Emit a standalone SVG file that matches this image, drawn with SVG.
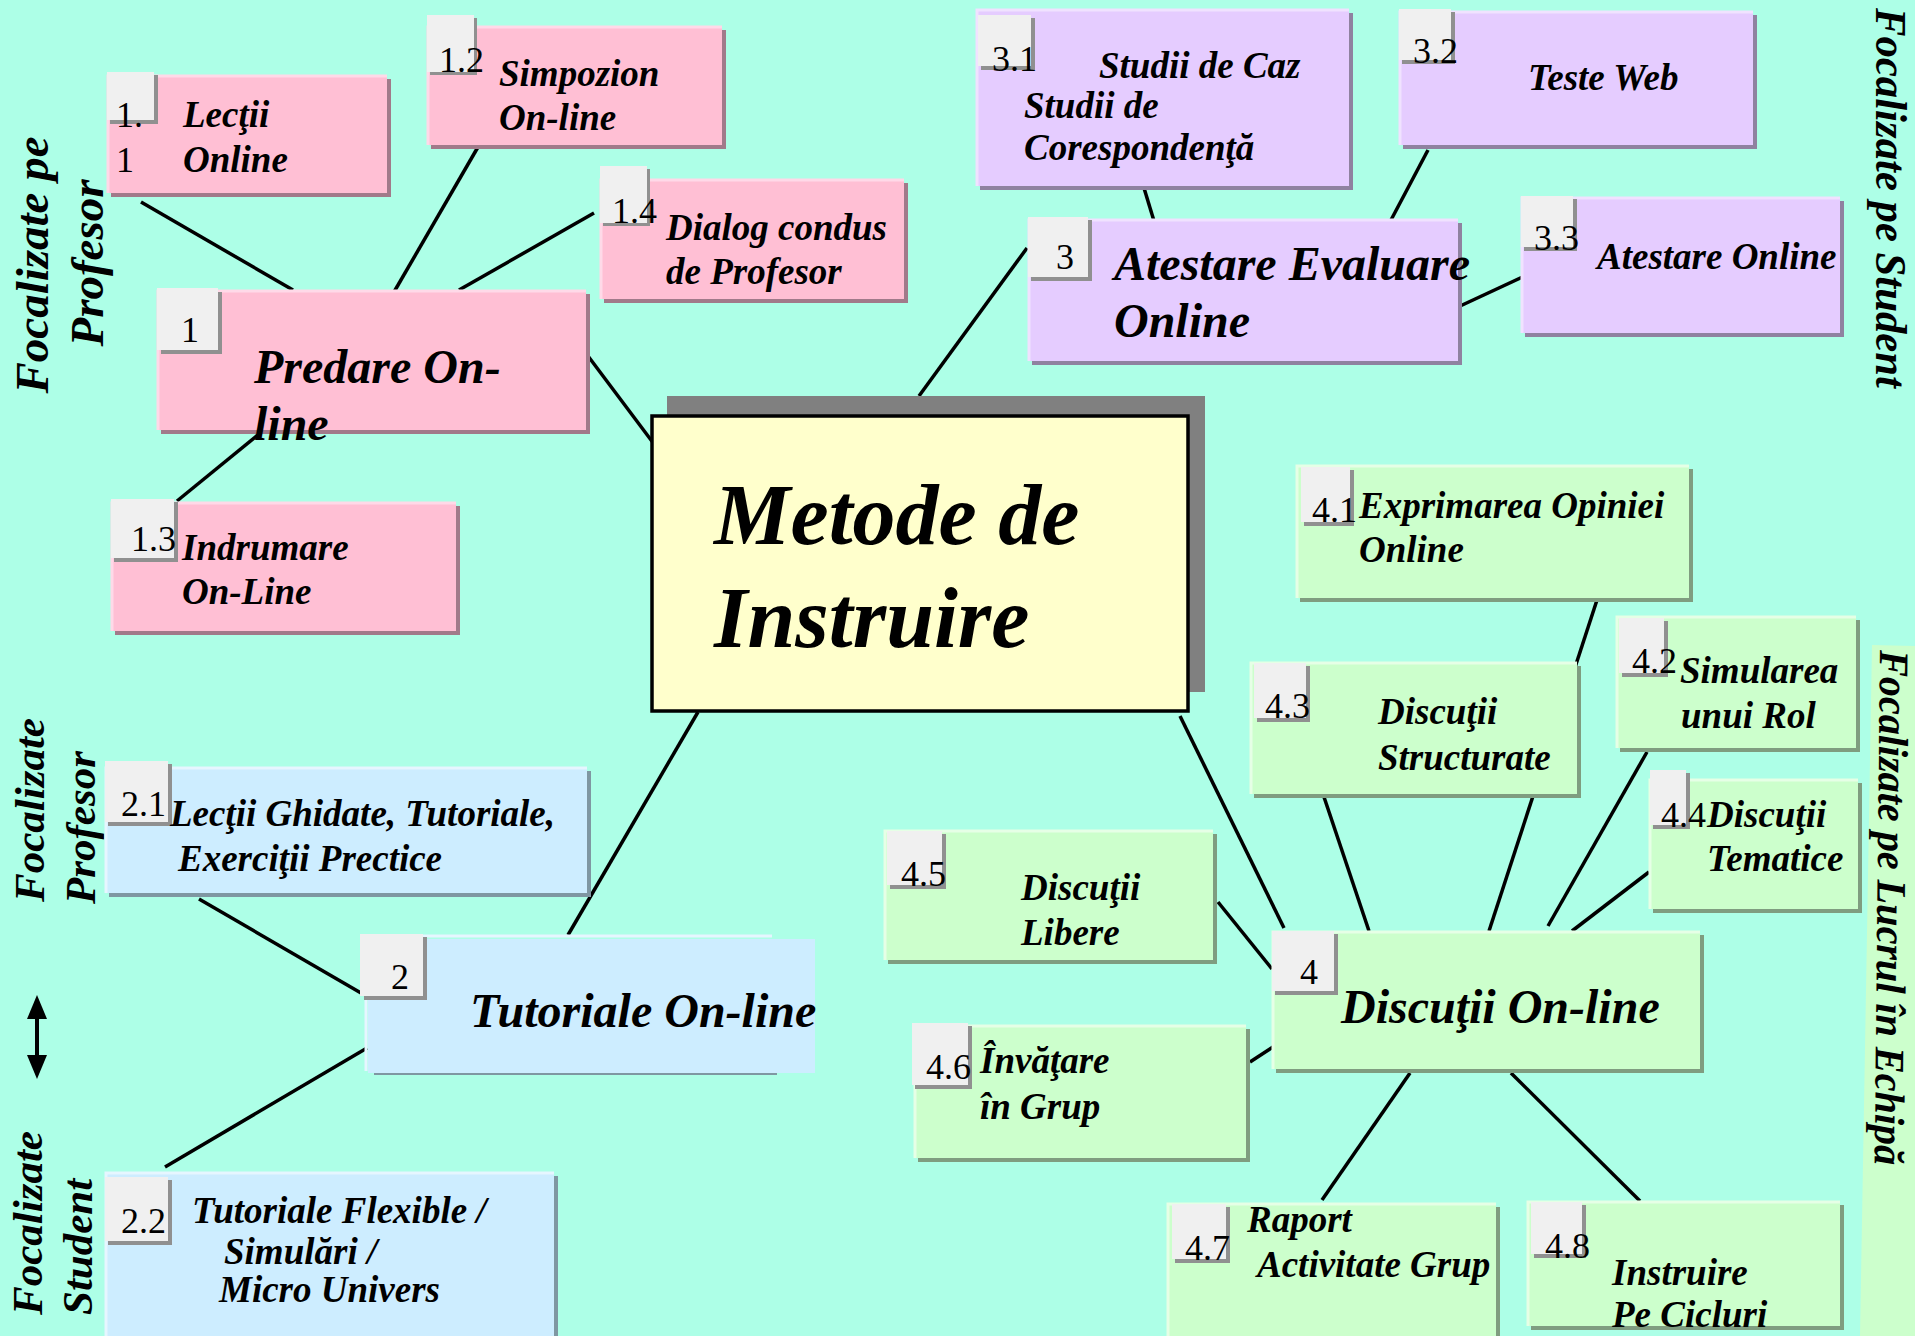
<svg xmlns="http://www.w3.org/2000/svg" width="1915" height="1336" viewBox="0 0 1915 1336">
<style>
.bg{fill:#adffe7}
.ln{stroke:#000;stroke-width:3.5;fill:none}
.pk{fill:#ffbfd4}.pk-s{fill:#a17a8a}.pk-h{stroke:#ffd9e8;stroke-width:3;fill:none}
.pu{fill:#e5ccff}.pu-s{fill:#8f82a0}.pu-h{stroke:#f0e2ff;stroke-width:3;fill:none}
.gr{fill:#ccffcc}.gr-s{fill:#7f9d80}.gr-h{stroke:#e6ffe6;stroke-width:3;fill:none}
.bl{fill:#cdedff}.bl-s{fill:#7f97a2}.bl-h{stroke:#e6f6ff;stroke-width:3;fill:none}
.bd{fill:#f0f0f0}.bd-s{fill:#909090}
.num{font-family:"Liberation Serif",serif;font-size:36px;fill:#000}
.t2{font-family:"Liberation Serif",serif;font-size:37px;font-weight:bold;font-style:italic;fill:#000}
.t1{font-family:"Liberation Serif",serif;font-size:48px;font-weight:bold;font-style:italic;fill:#000}
.t0{font-family:"Liberation Serif",serif;font-size:86px;font-weight:bold;font-style:italic;fill:#000}
.side{font-family:"Liberation Serif",serif;font-weight:bold;font-style:italic;fill:#000}
</style>
<rect class="bg" x="0" y="0" width="1915" height="1336"/>

<g id="side-labels">
  <text class="side" font-size="47" text-anchor="middle" transform="translate(48,265) rotate(-90)">Focalizate pe</text>
  <text class="side" font-size="47" text-anchor="middle" transform="translate(103,263) rotate(-90)">Profesor</text>
  <text class="side" font-size="43" transform="translate(44,902) rotate(-90)">Focalizate</text>
  <text class="side" font-size="43" transform="translate(95,904) rotate(-90)">Profesor</text>
  <text class="side" font-size="43" transform="translate(42,1315) rotate(-90)">Focalizate</text>
  <text class="side" font-size="43" transform="translate(92,1315) rotate(-90)">Student</text>
  <text class="side" font-size="44" textLength="380" lengthAdjust="spacingAndGlyphs" transform="translate(1876,8) rotate(90)">Focalizate pe Student</text>
  <polygon points="1872,645 1915,646 1915,1336 1860,1336" fill="#ccffcc"/>
  <text class="side" font-size="42" textLength="515" lengthAdjust="spacingAndGlyphs" transform="translate(1880,650) rotate(90.6)">Focalizate pe Lucrul în Echipă</text>
  <g id="double-arrow">
    <line x1="37" y1="1012" x2="37" y2="1062" stroke="#000" stroke-width="4"/>
    <polygon points="37,995 27,1019 47,1019" fill="#000"/>
    <polygon points="37,1079 27,1055 47,1055" fill="#000"/>
  </g>
</g>

<g id="connectors">
  <line class="ln" x1="141" y1="202" x2="293" y2="290"/>
  <line class="ln" x1="478" y1="147" x2="394" y2="292"/>
  <line class="ln" x1="594" y1="213" x2="459" y2="290"/>
  <line class="ln" x1="259" y1="434" x2="177" y2="501"/>
  <line class="ln" x1="588" y1="356" x2="654" y2="444"/>
  <line class="ln" x1="919" y1="396" x2="1027" y2="248"/>
  <line class="ln" x1="1144" y1="188" x2="1154" y2="221"/>
  <line class="ln" x1="1428" y1="150" x2="1391" y2="220"/>
  <line class="ln" x1="1458" y1="307" x2="1529" y2="274"/>
  <line class="ln" x1="698" y1="712" x2="568" y2="935"/>
  <line class="ln" x1="199" y1="899" x2="361" y2="993"/>
  <line class="ln" x1="367" y1="1048" x2="165" y2="1167"/>
  <line class="ln" x1="1180" y1="716" x2="1284" y2="928"/>
  <line class="ln" x1="1324" y1="797" x2="1369" y2="931"/>
  <line class="ln" x1="1597" y1="600" x2="1489" y2="931"/>
  <line class="ln" x1="1647" y1="752" x2="1548" y2="926"/>
  <line class="ln" x1="1649" y1="872" x2="1572" y2="931"/>
  <line class="ln" x1="1218" y1="902" x2="1272" y2="969"/>
  <line class="ln" x1="1250" y1="1062" x2="1276" y2="1045"/>
  <line class="ln" x1="1410" y1="1073" x2="1322" y2="1200"/>
  <line class="ln" x1="1511" y1="1073" x2="1640" y2="1201"/>
</g>

<g id="center">
  <rect x="667" y="396" width="538" height="296" fill="#808080"/>
  <rect x="652" y="416" width="536" height="295" fill="#ffffcc" stroke="#000" stroke-width="3.5"/>
  <text class="t0" x="714" y="544">Metode de</text>
  <text class="t0" x="714" y="647">Instruire</text>
</g>

<!-- Branch 1 -->
<g id="n1">
  <rect class="pk-s" x="161" y="294" width="429" height="140"/>
  <rect class="pk" x="157" y="290" width="429" height="140"/>
  <polyline class="pk-h" points="158,430 158,291 586,291"/>
  <rect class="bd-s" x="161" y="292" width="61" height="62"/>
  <rect class="bd" x="157" y="288" width="61" height="62"/>
  <text class="num" x="181" y="342">1</text>
  <text class="t1" x="254" y="383">Predare On-</text>
  <text class="t1" x="254" y="440">line</text>
</g>
<g id="n1-1">
  <rect class="pk-s" x="111" y="79" width="280" height="118"/>
  <rect class="pk" x="107" y="75" width="280" height="118"/>
  <polyline class="pk-h" points="108,193 108,76 387,76"/>
  <rect class="bd-s" x="110" y="75" width="48" height="49"/>
  <rect class="bd" x="107" y="72" width="47" height="48"/>
  <text class="num" x="116" y="127">1.</text>
  <text class="num" x="116" y="172">1</text>
  <text class="t2" x="183" y="127">Lecţii</text>
  <text class="t2" x="183" y="172">Online</text>
</g>
<g id="n1-2">
  <rect class="pk-s" x="431" y="30" width="295" height="119"/>
  <rect class="pk" x="427" y="26" width="295" height="119"/>
  <polyline class="pk-h" points="428,145 428,27 722,27"/>
  <rect class="bd-s" x="430" y="18" width="47" height="57"/>
  <rect class="bd" x="427" y="15" width="47" height="57"/>
  <text class="num" x="439" y="72">1.2</text>
  <text class="t2" x="499" y="86">Simpozion</text>
  <text class="t2" x="499" y="130">On-line</text>
</g>
<g id="n1-4">
  <rect class="pk-s" x="604" y="183" width="304" height="120"/>
  <rect class="pk" x="600" y="179" width="304" height="120"/>
  <polyline class="pk-h" points="601,299 601,180 904,180"/>
  <rect class="bd-s" x="603" y="169" width="47" height="57"/>
  <rect class="bd" x="600" y="166" width="47" height="57"/>
  <text class="num" x="612" y="223">1.4</text>
  <text class="t2" x="666" y="240">Dialog condus</text>
  <text class="t2" x="666" y="284">de Profesor</text>
</g>
<g id="n1-3">
  <rect class="pk-s" x="115" y="506" width="345" height="129"/>
  <rect class="pk" x="111" y="502" width="345" height="129"/>
  <polyline class="pk-h" points="112,631 112,503 456,503"/>
  <rect class="bd-s" x="114" y="502" width="64" height="60"/>
  <rect class="bd" x="111" y="499" width="63" height="59"/>
  <text class="num" x="131" y="551">1.3</text>
  <text class="t2" x="182" y="560">Indrumare</text>
  <text class="t2" x="182" y="604">On-Line</text>
</g>

<!-- Branch 2 -->
<g id="n2">
  <rect class="bl-s" x="374" y="941" width="403" height="134"/>
  <rect class="bl" x="368" y="939" width="447" height="134"/>
  <polyline class="bl-h" points="366,1071 366,936 772,936"/>
  <rect class="bd-s" x="364" y="937" width="63" height="63"/>
  <rect class="bd" x="360" y="934" width="63" height="62"/>
  <text class="num" x="391" y="989">2</text>
  <text class="t1" x="470" y="1027">Tutoriale On-line</text>
</g>
<g id="n2-1">
  <rect class="bl-s" x="109" y="771" width="482" height="126"/>
  <rect class="bl" x="105" y="767" width="482" height="126"/>
  <polyline class="bl-h" points="106,893 106,768 587,768"/>
  <rect class="bd-s" x="108" y="764" width="64" height="62"/>
  <rect class="bd" x="105" y="761" width="63" height="61"/>
  <text class="num" x="121" y="816">2.1</text>
  <text class="t2" x="170" y="826">Lecţii Ghidate, Tutoriale,</text>
  <text class="t2" x="178" y="871">Exerciţii Prectice</text>
</g>
<g id="n2-2">
  <rect class="bl-s" x="109" y="1176" width="449" height="170"/>
  <rect class="bl" x="105" y="1172" width="449" height="170"/>
  <polyline class="bl-h" points="106,1336 106,1173 554,1173"/>
  <rect class="bd-s" x="108" y="1180" width="64" height="65"/>
  <rect class="bd" x="105" y="1177" width="63" height="64"/>
  <text class="num" x="121" y="1233">2.2</text>
  <text class="t2" x="192" y="1223">Tutoriale Flexible /</text>
  <text class="t2" x="224" y="1264">Simulări /</text>
  <text class="t2" x="219" y="1302">Micro Univers</text>
</g>

<!-- Branch 3 -->
<g id="n3">
  <rect class="pu-s" x="1032" y="223" width="430" height="142"/>
  <rect class="pu" x="1028" y="219" width="430" height="142"/>
  <polyline class="pu-h" points="1029,361 1029,220 1458,220"/>
  <rect class="bd-s" x="1031" y="220" width="61" height="61"/>
  <rect class="bd" x="1028" y="217" width="60" height="60"/>
  <text class="num" x="1056" y="269">3</text>
  <text class="t1" x="1114" y="280">Atestare Evaluare</text>
  <text class="t1" x="1114" y="337">Online</text>
</g>
<g id="n3-1">
  <rect class="pu-s" x="980" y="13" width="373" height="177"/>
  <rect class="pu" x="976" y="9" width="373" height="177"/>
  <polyline class="pu-h" points="977,186 977,10 1349,10"/>
  <rect class="bd-s" x="981" y="18" width="54" height="52"/>
  <rect class="bd" x="978" y="15" width="53" height="51"/>
  <text class="num" x="992" y="71">3.1</text>
  <text class="t2" x="1099" y="78">Studii de Caz</text>
  <text class="t2" x="1024" y="118">Studii de</text>
  <text class="t2" x="1024" y="160">Corespondenţă</text>
</g>
<g id="n3-2">
  <rect class="pu-s" x="1403" y="15" width="354" height="134"/>
  <rect class="pu" x="1399" y="11" width="354" height="134"/>
  <polyline class="pu-h" points="1400,145 1400,12 1753,12"/>
  <rect class="bd-s" x="1402" y="12" width="53" height="52"/>
  <rect class="bd" x="1399" y="9" width="52" height="51"/>
  <text class="num" x="1413" y="63">3.2</text>
  <text class="t2" x="1528" y="90">Teste Web</text>
</g>
<g id="n3-3">
  <rect class="pu-s" x="1525" y="201" width="319" height="136"/>
  <rect class="pu" x="1521" y="197" width="319" height="136"/>
  <polyline class="pu-h" points="1522,333 1522,198 1840,198"/>
  <rect class="bd-s" x="1524" y="199" width="53" height="52"/>
  <rect class="bd" x="1521" y="196" width="52" height="51"/>
  <text class="num" x="1534" y="250">3.3</text>
  <text class="t2" x="1597" y="269">Atestare Online</text>
</g>

<!-- Branch 4 -->
<g id="n4-1">
  <rect class="gr-s" x="1300" y="469" width="393" height="133"/>
  <rect class="gr" x="1296" y="465" width="393" height="133"/>
  <polyline class="gr-h" points="1297,598 1297,466 1689,466"/>
  <rect class="bd-s" x="1304" y="470" width="50" height="56"/>
  <rect class="bd" x="1301" y="467" width="49" height="55"/>
  <text class="num" x="1312" y="522">4.1</text>
  <text class="t2" x="1359" y="518">Exprimarea Opiniei</text>
  <text class="t2" x="1359" y="562">Online</text>
</g>
<g id="n4-3">
  <rect class="gr-s" x="1254" y="666" width="327" height="132"/>
  <rect class="gr" x="1250" y="662" width="327" height="132"/>
  <polyline class="gr-h" points="1251,794 1251,663 1577,663"/>
  <rect class="bd-s" x="1257" y="666" width="53" height="56"/>
  <rect class="bd" x="1254" y="663" width="52" height="55"/>
  <text class="num" x="1265" y="718">4.3</text>
  <text class="t2" x="1378" y="724">Discuţii</text>
  <text class="t2" x="1378" y="770">Structurate</text>
</g>
<g id="n4-2">
  <rect class="gr-s" x="1620" y="620" width="240" height="132"/>
  <rect class="gr" x="1616" y="616" width="240" height="132"/>
  <polyline class="gr-h" points="1617,748 1617,617 1856,617"/>
  <rect class="bd-s" x="1622" y="621" width="46" height="56"/>
  <rect class="bd" x="1619" y="618" width="45" height="55"/>
  <text class="num" x="1632" y="673">4.2</text>
  <text class="t2" x="1680" y="683">Simularea</text>
  <text class="t2" x="1681" y="728">unui Rol</text>
</g>
<g id="n4-4">
  <rect class="gr-s" x="1653" y="783" width="209" height="130"/>
  <rect class="gr" x="1649" y="779" width="209" height="130"/>
  <polyline class="gr-h" points="1650,909 1650,780 1858,780"/>
  <rect class="bd-s" x="1653" y="773" width="37" height="56"/>
  <rect class="bd" x="1650" y="770" width="36" height="55"/>
  <text class="num" x="1661" y="827">4.4</text>
  <text class="t2" x="1707" y="827">Discuţii</text>
  <text class="t2" x="1707" y="871">Tematice</text>
</g>
<g id="n4-5">
  <rect class="gr-s" x="888" y="834" width="329" height="130"/>
  <rect class="gr" x="884" y="830" width="329" height="130"/>
  <polyline class="gr-h" points="885,960 885,831 1213,831"/>
  <rect class="bd-s" x="890" y="834" width="56" height="55"/>
  <rect class="bd" x="887" y="831" width="55" height="54"/>
  <text class="num" x="901" y="886">4.5</text>
  <text class="t2" x="1021" y="900">Discuţii</text>
  <text class="t2" x="1021" y="945">Libere</text>
</g>
<g id="n4-6">
  <rect class="gr-s" x="918" y="1029" width="332" height="133"/>
  <rect class="gr" x="914" y="1025" width="332" height="133"/>
  <polyline class="gr-h" points="915,1158 915,1026 1246,1026"/>
  <rect class="bd-s" x="915" y="1026" width="57" height="63"/>
  <rect class="bd" x="912" y="1023" width="56" height="62"/>
  <text class="num" x="926" y="1079">4.6</text>
  <text class="t2" x="980" y="1073">Învăţare</text>
  <text class="t2" x="980" y="1119">în Grup</text>
</g>
<g id="n4">
  <rect class="gr-s" x="1276" y="935" width="428" height="138"/>
  <rect class="gr" x="1272" y="931" width="428" height="138"/>
  <polyline class="gr-h" points="1273,1069 1273,932 1700,932"/>
  <rect class="bd-s" x="1275" y="934" width="63" height="61"/>
  <rect class="bd" x="1272" y="931" width="62" height="60"/>
  <text class="num" x="1300" y="984">4</text>
  <text class="t1" x="1341" y="1023">Discuţii On-line</text>
</g>
<g id="n4-7">
  <rect class="gr-s" x="1171" y="1207" width="329" height="140"/>
  <rect class="gr" x="1167" y="1203" width="329" height="140"/>
  <polyline class="gr-h" points="1168,1336 1168,1204 1496,1204"/>
  <rect class="bd-s" x="1175" y="1207" width="55" height="56"/>
  <rect class="bd" x="1172" y="1204" width="54" height="55"/>
  <text class="num" x="1185" y="1260">4.7</text>
  <text class="t2" x="1247" y="1232">Raport</text>
  <text class="t2" x="1257" y="1277">Activitate Grup</text>
</g>
<g id="n4-8">
  <rect class="gr-s" x="1531" y="1205" width="313" height="125"/>
  <rect class="gr" x="1527" y="1201" width="313" height="125"/>
  <polyline class="gr-h" points="1528,1326 1528,1202 1840,1202"/>
  <rect class="bd-s" x="1534" y="1205" width="52" height="53"/>
  <rect class="bd" x="1531" y="1202" width="51" height="52"/>
  <text class="num" x="1545" y="1258">4.8</text>
  <text class="t2" x="1612" y="1285">Instruire</text>
  <text class="t2" x="1612" y="1327">Pe Cicluri</text>
</g>
</svg>
